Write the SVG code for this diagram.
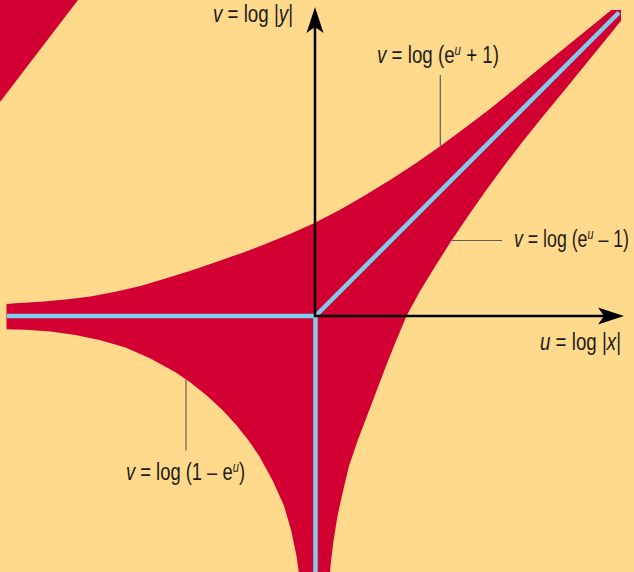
<svg xmlns="http://www.w3.org/2000/svg" width="634" height="572" viewBox="0 0 634 572">
<style>
.bg{fill:#FFDA8C}
.red{fill:#D20032}
.blue{fill:none;stroke:#80CCEE;stroke-width:4.5;stroke-linejoin:round}
.axis{fill:none;stroke:#000;stroke-width:2.5}
.lead{fill:none;stroke:#5E5E5E;stroke-width:1.2}
.lbl{font-family:"Liberation Sans Narrow","Liberation Sans",Arial,sans-serif;font-size:23px;fill:#1E1A18}
.it{font-style:italic}
.sup{font-size:14px;font-style:italic}
</style>
<defs>
<clipPath id="clip"><rect x="6.5" y="10" width="614.5" height="570"/></clipPath>
<marker id="arrow" viewBox="0 -9 27 18" refX="6" refY="0" markerWidth="27" markerHeight="18" markerUnits="userSpaceOnUse" orient="auto">
<path d="M26,0 L0,-8.5 L6,0 L0,8.5 Z" fill="#000"/>
</marker>
</defs>
<rect class="bg" x="0" y="0" width="634" height="572"/>
<g id="corner"><polygon class="red" points="0,0 78,0 0,102"/></g>
<g id="amoeba" clip-path="url(#clip)">
<path class="red" d="M-9.5,304.5 L5.5,304 L15.5,303.3 L40.5,301.8 L65.5,299.5 L90.5,296.4 L115.5,291.7 L140.5,286 L165.5,278.6 L190.5,270.7 L215.5,262.2 L240.5,253.4 L265.5,244.1 L290.5,233.8 L315.5,222.4 L340.5,209.4 L365.5,195.1 L390.5,179.8 L415.5,163.4 L440.5,145.9 L465.5,127.6 L490.5,108.4 L515.5,88.3 L540.5,67.6 L565.5,47.3 L590.5,26.9 L615.5,6.6 L635.5,-12 L643.5,-4 L624.9,16 L604.6,41 L584.2,66 L563.9,91 L543.2,116 L523.1,141 L503.9,166 L485.6,191 L468.1,216 L451.2,241 L435.4,266 L420.1,291 L406.5,316 L396,341 L386,366 L376.5,391 L367,416 L357.5,441 L349,466 L343,491 L337.5,516 L333.5,541 L330.5,566 L328.5,591 L300.8,591 L300.1,581 L296.5,556 L291.3,531 L284.1,506 L272.9,481 L259.2,456 L248.9,441 L237.1,426 L228,416 L221.9,409.6 L215.5,403.5 L205.5,394.4 L190.5,382.6 L175.5,372.3 L150.5,358.6 L125.5,347.4 L100.5,340.2 L75.5,335 L50.5,331.4 L25.5,329.8 L5.5,329.3 L-9.5,329 Z"/>
</g>
<g id="spine">
<path class="blue" d="M7,316 L315.5,316 L619,12.5"/>
<path class="blue" d="M315.5,316 L315.5,572"/>
</g>
<g id="connectors">
<path class="axis" d="M314,316 L604,316" marker-end="url(#arrow)"/>
<path class="axis" d="M315,317 L315,27" marker-end="url(#arrow)"/>
<path class="lead" d="M440.3,75 L440.3,147"/>
<path class="lead" d="M450.5,240.5 L502,240.5"/>
<path class="lead" d="M186,379.5 L186,450.5"/>
</g>
<g id="label-y"><text class="lbl" x="213" y="22" textLength="80" lengthAdjust="spacingAndGlyphs"><tspan class="it">v</tspan> = log |<tspan class="it">y</tspan>|</text></g>
<g id="label-upper"><text class="lbl" x="377" y="63" textLength="122" lengthAdjust="spacingAndGlyphs"><tspan class="it">v</tspan> = log (e<tspan class="sup" dy="-8">u</tspan><tspan dy="8"> + 1)</tspan></text></g>
<g id="label-lower"><text class="lbl" x="514" y="247" textLength="115" lengthAdjust="spacingAndGlyphs"><tspan class="it">v</tspan> = log (e<tspan class="sup" dy="-8">u</tspan><tspan dy="8"> – 1)</tspan></text></g>
<g id="label-x"><text class="lbl" x="540" y="350" textLength="81" lengthAdjust="spacingAndGlyphs"><tspan class="it">u</tspan> = log |<tspan class="it">x</tspan>|</text></g>
<g id="label-left"><text class="lbl" x="126" y="480" textLength="119" lengthAdjust="spacingAndGlyphs"><tspan class="it">v</tspan> = log (1 – e<tspan class="sup" dy="-8">u</tspan><tspan dy="8">)</tspan></text></g>
</svg>
